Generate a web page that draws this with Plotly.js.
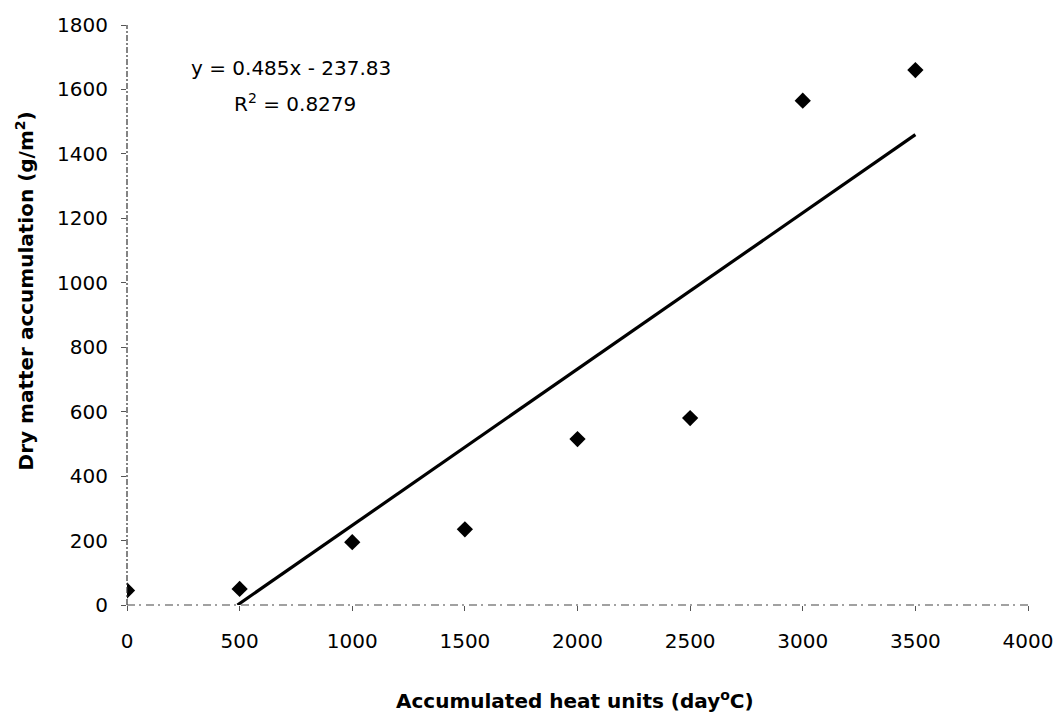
<!DOCTYPE html>
<html>
<head>
<meta charset="utf-8">
<script src="https://cdn.plot.ly/plotly-3.0.1.min.js"></script>
<style>html,body{margin:0;padding:0;background:#fff;}#chart{width:1059px;height:715px;}</style>
</head>
<body>
<div id="chart"></div>
<script>
// Data
const heatUnits = [0, 500, 1000, 1500, 2000, 2500, 3000, 3500];
const dryMatter = [45, 50, 195, 235, 515, 580, 1565, 1660];
// Linear trendline as printed on the chart
const slope = 0.485;
const intercept = -237.83;
const rSquared = 0.8279;
const trendX = [-intercept / slope, 3500];
const trendY = trendX.map(x => slope * x + intercept);
const xTicks = [0, 500, 1000, 1500, 2000, 2500, 3000, 3500, 4000];
const yTicks = [0, 200, 400, 600, 800, 1000, 1200, 1400, 1600, 1800];

const FONT = 'DejaVu Sans, Liberation Sans, Arial, sans-serif';

const traces = [
  {
    x: trendX, y: trendY, mode: 'lines', type: 'scatter',
    line: {color: '#000', width: 3.2}, hoverinfo: 'skip', showlegend: false
  },
  {
    x: heatUnits, y: dryMatter, mode: 'markers', type: 'scatter',
    marker: {symbol: 'diamond', size: 12.5, color: '#000'}, showlegend: false
  }
];

const layout = {
  width: 1059, height: 715,
  margin: {l: 127, r: 31, t: 25, b: 110},
  paper_bgcolor: '#fff', plot_bgcolor: '#fff',
  font: {family: FONT, color: '#000', size: 20},
  showlegend: false,
  xaxis: {
    range: [0, 4000], tickvals: xTicks, ticktext: xTicks.map(String),
    showgrid: false, zeroline: false, showline: false,
    ticks: 'outside', ticklen: 5, tickcolor: '#555', tickwidth: 1,
    ticklabelstandoff: 13,
    tickfont: {family: FONT, size: 20, color: '#000'}
  },
  yaxis: {
    range: [0, 1800], tickvals: yTicks, ticktext: yTicks.map(String),
    showgrid: false, zeroline: false, showline: false,
    ticks: 'outside', ticklen: 5, tickcolor: '#555', tickwidth: 1,
    ticklabelstandoff: 9,
    tickfont: {family: FONT, size: 20, color: '#000'}
  },
  shapes: [
    {type: 'line', xref: 'paper', yref: 'paper', x0: 0, x1: 0, y0: 0, y1: 1,
     line: {color: '#333', width: 1.2, dash: '6px,2px,2px,2px'}},
    {type: 'line', xref: 'paper', yref: 'paper', x0: 0, x1: 1, y0: 0, y1: 0,
     line: {color: '#444', width: 1.2, dash: '8px,4px,2px,5px'}}
  ],
  annotations: [
    {xref: 'x', yref: 'y', x: 728, y: 1667, xanchor: 'center', yanchor: 'middle',
     text: 'y = 0.485x - 237.83',
     showarrow: false, font: {family: FONT, size: 20, color: '#000'}},
    {xref: 'x', yref: 'y', x: 746, y: 1558, xanchor: 'center', yanchor: 'middle',
     text: 'R<sup>2</sup> = ' + rSquared,
     showarrow: false, font: {family: FONT, size: 20, color: '#000'}},
    {xref: 'paper', yref: 'paper', x: 0.497, y: -0.164, xanchor: 'center', yanchor: 'middle',
     text: '<b>Accumulated heat units (day<sup>o</sup>C)</b>',
     showarrow: false, font: {family: FONT, size: 20, color: '#000'}},
    {xref: 'paper', yref: 'paper', x: -0.113, y: 0.541, xanchor: 'center', yanchor: 'middle',
     textangle: -90,
     text: '<b>Dry matter accumulation (g/m<sup>2</sup>)</b>',
     showarrow: false, font: {family: FONT, size: 20, color: '#000'}}
  ]
};

Plotly.newPlot('chart', traces, layout, {displayModeBar: false, staticPlot: true});
</script>
</body>
</html>
